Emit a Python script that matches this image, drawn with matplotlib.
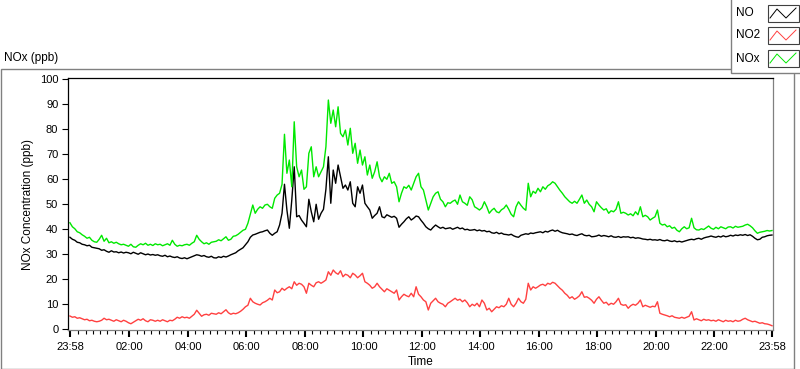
import numpy as np
import matplotlib
matplotlib.use('Agg')
import matplotlib.pyplot as plt
from matplotlib.lines import Line2D
from matplotlib.patches import Rectangle

plt.rcParams['font.family'] = ['Liberation Sans', 'DejaVu Sans']
plt.rcParams['font.size'] = 8

# time in minutes after midnight, 5 min steps from 23:58 (previous day) to 23:58
t_min = np.arange(-2, 1439, 5)

# one row per hour block (xx:58 ... yy:53)
no = [
    36.8, 36.0, 35.6, 34.8, 34.6, 34.0, 33.8, 33.4, 33.6, 32.8, 32.6, 32.4,
    32.2, 31.6, 31.8, 31.2, 30.8, 31.4, 30.9, 31.0, 30.6, 30.9, 30.5, 30.8,
    30.6, 30.2, 30.8, 30.4, 30.0, 30.6, 30.2, 29.8, 30.1, 29.7, 29.9, 29.6,
    29.8, 29.4, 29.2, 29.6, 29.0, 29.3, 28.9, 28.7, 29.0, 28.5, 28.3, 28.6,
    28.2, 28.6, 29.0, 29.4, 29.8, 29.6, 29.2, 29.5, 29.0, 28.8, 29.2, 28.6,
    28.5, 29.0, 28.7, 29.2, 28.9, 29.3, 29.8, 30.2, 30.6, 31.4, 32.0, 32.6,
    33.8, 35.0, 36.8, 37.7, 38.0, 38.4, 38.8, 39.0, 39.4, 39.7, 38.4, 37.6,
    38.4, 39.0, 41.7, 46.4, 58.0, 47.7, 40.4, 51.7, 65.0, 45.0, 45.5, 43.7,
    42.4, 41.0, 52.0, 47.0, 43.0, 50.0, 44.0, 46.4, 48.0, 56.0, 69.0, 50.4,
    63.7, 58.4, 65.7, 61.0, 56.4, 57.7, 55.7, 59.0, 50.4, 49.0, 57.0, 54.4,
    57.7, 50.4, 49.0, 47.7, 44.4, 45.5, 46.4, 49.0, 45.0, 44.6, 45.8, 45.3,
    44.8, 45.2, 44.4, 40.8, 42.0, 43.0, 44.2, 45.0, 43.7, 44.4, 45.3, 45.0,
    43.6, 42.4, 41.0, 40.2, 39.7, 40.8, 41.7, 41.0, 40.4, 40.8, 40.2, 40.4,
    40.6, 40.0, 40.4, 40.8, 40.2, 40.5, 39.8, 40.0, 39.6, 39.7, 39.9, 39.4,
    39.7, 39.3, 39.5, 39.0, 39.2, 38.6, 38.4, 38.8, 38.2, 38.5, 38.0, 37.9,
    37.7, 38.0, 37.4, 37.0, 36.8, 37.6, 37.9, 38.2, 38.0, 38.5, 38.3, 38.6,
    38.8, 39.0, 38.6, 39.2, 38.9, 39.4, 39.7, 39.2, 39.6, 39.0, 38.6, 38.4,
    38.2, 37.9, 38.1, 37.7, 37.5, 37.9, 38.2, 37.6, 37.4, 37.6, 37.0, 37.1,
    37.3, 37.7, 37.2, 37.5, 37.3, 37.0, 37.4, 36.9, 36.8, 37.1, 36.7, 37.0,
    36.9, 37.0, 36.6, 36.8, 36.4, 36.6, 36.4, 36.1, 36.0, 35.8, 36.0, 35.7,
    35.8, 35.6, 35.9, 35.5, 35.4, 35.7, 35.3, 35.1, 35.4, 35.0, 35.2, 34.9,
    35.2, 35.5, 35.8, 36.0, 35.8, 36.2, 36.4, 36.0, 36.5, 36.8, 37.0, 37.3,
    37.0, 36.8, 37.2, 36.9, 37.4, 37.0, 37.2, 37.6, 37.3, 37.7, 37.5, 37.8,
    37.6, 37.9, 37.5, 37.8, 37.2, 36.4, 35.8, 36.0, 36.8, 37.0, 37.4, 37.6,
    37.7,
]

no2 = [
    5.3, 4.8, 5.0, 4.4, 4.6, 4.2, 3.8, 4.0, 3.4, 3.6, 3.2, 3.0,
    3.2, 3.6, 4.4, 3.8, 4.0, 3.6, 3.2, 3.8, 3.4, 3.0, 3.6, 3.2,
    2.6, 2.2, 2.8, 3.4, 4.0, 3.6, 4.2, 3.4, 3.0, 3.8, 3.6, 3.2,
    3.6, 3.2, 3.8, 3.4, 3.0, 3.6, 3.4, 4.0, 4.8, 4.4, 5.0, 4.6,
    4.8, 4.4, 5.2, 6.0, 7.6, 6.4, 5.2, 5.8, 6.0, 5.6, 6.4, 6.2,
    6.0, 6.6, 6.2, 7.0, 7.8, 6.6, 6.0, 6.4, 6.2, 6.6, 7.2, 8.0,
    9.0, 9.6, 12.4, 11.0, 10.4, 10.0, 9.7, 10.6, 11.0, 11.6, 12.4, 11.7,
    15.7, 14.6, 15.0, 16.4, 15.6, 16.4, 17.0, 16.2, 19.0, 17.6, 18.4, 18.0,
    17.0, 14.4, 18.4, 17.6, 17.0, 18.6, 19.0, 18.4, 19.0, 19.7, 23.0, 21.6,
    23.7, 22.6, 22.0, 23.4, 21.0, 22.0, 21.6, 20.6, 22.4, 21.7, 20.6, 21.4,
    22.4, 19.0, 18.4, 17.6, 16.4, 17.0, 18.4, 17.0, 16.0, 15.0, 16.2, 15.6,
    15.0, 14.4, 15.7, 11.7, 13.0, 14.0, 13.4, 13.0, 14.4, 13.0, 17.0, 14.0,
    13.0, 11.7, 11.0, 7.7, 10.4, 11.4, 12.4, 11.0, 10.4, 10.0, 9.0, 10.4,
    11.0, 11.7, 12.4, 11.6, 12.0, 11.0, 11.7, 10.6, 9.0, 10.0, 9.4, 10.4,
    9.0, 11.7, 10.4, 7.7, 8.4, 7.0, 8.0, 9.0, 8.6, 9.4, 9.0, 10.0,
    12.4, 10.0, 9.0, 10.4, 12.4, 11.0, 10.4, 12.0, 18.4, 15.7, 17.0, 16.4,
    17.0, 17.7, 18.0, 17.4, 18.4, 18.0, 18.8, 18.4, 17.4, 16.4, 15.6, 14.4,
    13.6, 12.4, 13.0, 12.0, 12.6, 13.4, 15.0, 12.8, 13.0, 12.4, 11.6, 10.4,
    12.0, 13.0, 11.6, 10.4, 10.8, 9.7, 10.4, 10.0, 11.0, 12.4, 10.0, 9.6,
    9.8, 8.4, 9.4, 10.0, 9.6, 10.4, 11.7, 9.0, 9.6, 9.2, 8.8, 9.2,
    9.0, 11.0, 6.4, 6.0, 5.7, 5.4, 5.0, 5.4, 4.8, 4.6, 4.4, 4.8,
    4.4, 4.8, 5.2, 7.0, 3.7, 4.2, 3.8, 3.4, 4.0, 3.6, 3.8, 3.4,
    3.6, 3.2, 3.8, 3.4, 3.0, 3.6, 3.2, 3.4, 3.0, 3.6, 3.2, 3.4,
    4.0, 4.4, 3.8, 3.4, 3.0, 3.2, 2.8, 2.4, 2.6, 2.2, 2.1, 1.8,
    1.4,
]

nox = [
    42.6, 41.0, 40.2, 39.0, 38.6, 37.8, 37.2, 36.4, 36.8, 35.6, 35.0, 34.8,
    36.0, 37.6, 35.2, 36.4, 34.6, 35.0, 34.4, 34.8, 34.2, 33.8, 34.0, 33.6,
    33.2, 34.0, 33.0, 32.8, 33.6, 34.2, 33.8, 34.4, 33.6, 34.0, 33.5, 34.2,
    33.8, 34.0, 33.4, 33.8, 34.2, 33.6, 35.6, 34.0, 33.2, 33.6, 33.4, 33.8,
    34.0, 33.6, 34.4, 35.0, 37.6, 36.0, 35.0, 34.2, 34.6, 34.0, 34.8, 35.0,
    35.2, 35.8, 35.4, 36.2, 37.0, 35.6, 36.0, 37.2, 37.4, 38.0, 38.8, 39.6,
    40.0, 42.4, 46.0, 49.7, 46.4, 48.0, 49.0, 48.4, 49.7, 50.0, 49.0, 48.4,
    52.4, 53.7, 54.4, 58.0, 78.0, 62.4, 67.7, 57.0, 83.0, 65.0, 61.0, 63.7,
    56.0, 57.0, 70.4, 73.0, 61.0, 65.0, 61.0, 63.0, 65.0, 73.0, 91.7, 82.4,
    87.7, 81.0, 89.0, 78.4, 77.0, 79.7, 73.7, 80.4, 70.4, 74.4, 66.4, 71.7,
    65.7, 69.0, 61.7, 65.7, 60.4, 63.0, 67.0, 61.0, 59.0, 61.0, 60.0, 62.4,
    58.4, 59.0, 57.0, 51.0, 54.4, 57.0, 56.4, 57.6, 55.7, 58.4, 61.0, 62.4,
    57.0, 55.7, 51.7, 47.7, 50.4, 53.0, 54.4, 55.0, 52.0, 51.0, 49.0, 50.6,
    50.4, 51.2, 51.7, 50.0, 53.7, 51.0, 50.4, 49.6, 53.0, 51.8, 49.0, 48.4,
    47.7, 48.6, 51.0, 49.0, 46.4, 47.6, 48.4, 47.0, 46.6, 47.8, 48.4, 49.7,
    48.0, 46.0, 45.0, 49.0, 51.0, 49.6, 48.4, 47.6, 58.4, 53.0, 55.2, 54.4,
    56.4, 55.0, 57.0, 56.0, 57.4, 58.0, 59.0, 58.4, 57.0, 55.6, 54.4, 53.0,
    52.0, 51.0, 50.4, 51.2, 50.4, 52.0, 53.7, 50.4, 51.7, 50.0, 49.0, 47.0,
    51.0, 49.7, 48.6, 47.7, 48.2, 46.4, 47.4, 47.0, 48.0, 51.0, 46.4, 46.8,
    46.4, 45.7, 46.2, 45.4, 47.0, 45.8, 49.0, 45.0, 45.6, 45.0, 43.7, 44.4,
    45.0, 47.7, 42.4, 41.7, 42.0, 41.0, 41.4, 40.4, 40.8, 39.6, 39.0, 40.2,
    41.0, 40.2, 40.6, 44.4, 40.6, 39.8, 39.7, 40.2, 39.9, 40.6, 41.3, 40.4,
    40.0, 40.8, 40.2, 41.0, 40.6, 40.2, 40.9, 41.0, 40.5, 41.2, 40.8, 41.0,
    41.2, 41.7, 42.0, 41.4, 40.6, 39.4, 38.4, 38.8, 39.0, 39.2, 39.5, 39.3,
    39.5,
]

tick_pos = [-2, 120, 240, 360, 480, 600, 720, 840, 960, 1080, 1200, 1320, 1438]
tick_labels = ['23:58', '02:00', '04:00', '06:00', '08:00', '10:00', '12:00',
               '14:00', '16:00', '18:00', '20:00', '22:00', '23:58']
series_names = ['NO', 'NO2', 'NOx']
series_colors = ['black', '#ff4040', '#00e800']

W, H = 800, 369
def fx(px):
    return px / W
def fy(py):
    return 1 - py / H

fig = plt.figure(figsize=(8, 3.69), dpi=100)

# outer panel frame
fig.add_artist(Rectangle((fx(0.5), fy(368.5)), fx(793.5) - fx(0.5), fy(69.5) - fy(368.5),
                         transform=fig.transFigure, fill=False, edgecolor='#808080', lw=1.0))
fig.text(fx(4), fy(58), 'NOx (ppb)', va='center', ha='left', fontsize=8.5)

ax = fig.add_axes([fx(68), fy(330), fx(772.5) - fx(68), fy(78.3) - fy(330)])
for vals, c in zip([no, no2, nox], series_colors):
    ax.plot(t_min, vals, color=c, lw=1.0)

ax.set_xlim(-6, 1439)
ax.set_ylim(-0.3, 100.4)
ax.set_yticks(range(0, 101, 10))
ax.set_xticks(tick_pos)
ax.set_xticklabels(tick_labels)
minor = [m for m in range(15, 1438, 15) if m % 120 != 0]
ax.set_xticks(minor, minor=True)
ax.tick_params(axis='x', which='major', length=5, width=1.5, pad=3.5, direction='out')
ax.tick_params(axis='x', which='minor', length=3, width=0.8, direction='out')
ax.tick_params(axis='y', length=4, width=0.8, pad=3, direction='out')
ax.set_xlabel('Time', labelpad=3, fontsize=8.5)
ax.set_ylabel('NOx Concentration (ppb)', labelpad=4, fontsize=8.5)
for s in ['top', 'left']:
    ax.spines[s].set_color('black')
for s in ['bottom', 'right']:
    ax.spines[s].set_color('#808080')
for s in ax.spines.values():
    s.set_linewidth(0.9)

# legend panel
fig.add_artist(Rectangle((fx(730.5), fy(72.5)), fx(805) - fx(730.5), fy(-2) - fy(72.5),
                         transform=fig.transFigure, facecolor='white', edgecolor='#808080',
                         lw=1.0, zorder=5))
box_tops = [5, 27, 50]
for name, c, top in zip(series_names, series_colors, box_tops):
    fig.text(fx(736), fy(top + 8.5), name, va='center', ha='left', fontsize=8.5, zorder=6)
    fig.add_artist(Rectangle((fx(767.5), fy(top + 16.5)), fx(799) - fx(767.5), fy(top) - fy(top + 16.5),
                             transform=fig.transFigure, facecolor='white', edgecolor='#404040',
                             lw=0.8, zorder=6))
    xs = [770, 777, 786, 796]
    ys = [top + 13, top + 4, top + 13, top + 3]
    fig.add_artist(Line2D([fx(v) for v in xs], [fy(v) for v in ys], transform=fig.transFigure,
                          color=c, lw=0.7, zorder=7))

fig.savefig('out.png', dpi=100)
